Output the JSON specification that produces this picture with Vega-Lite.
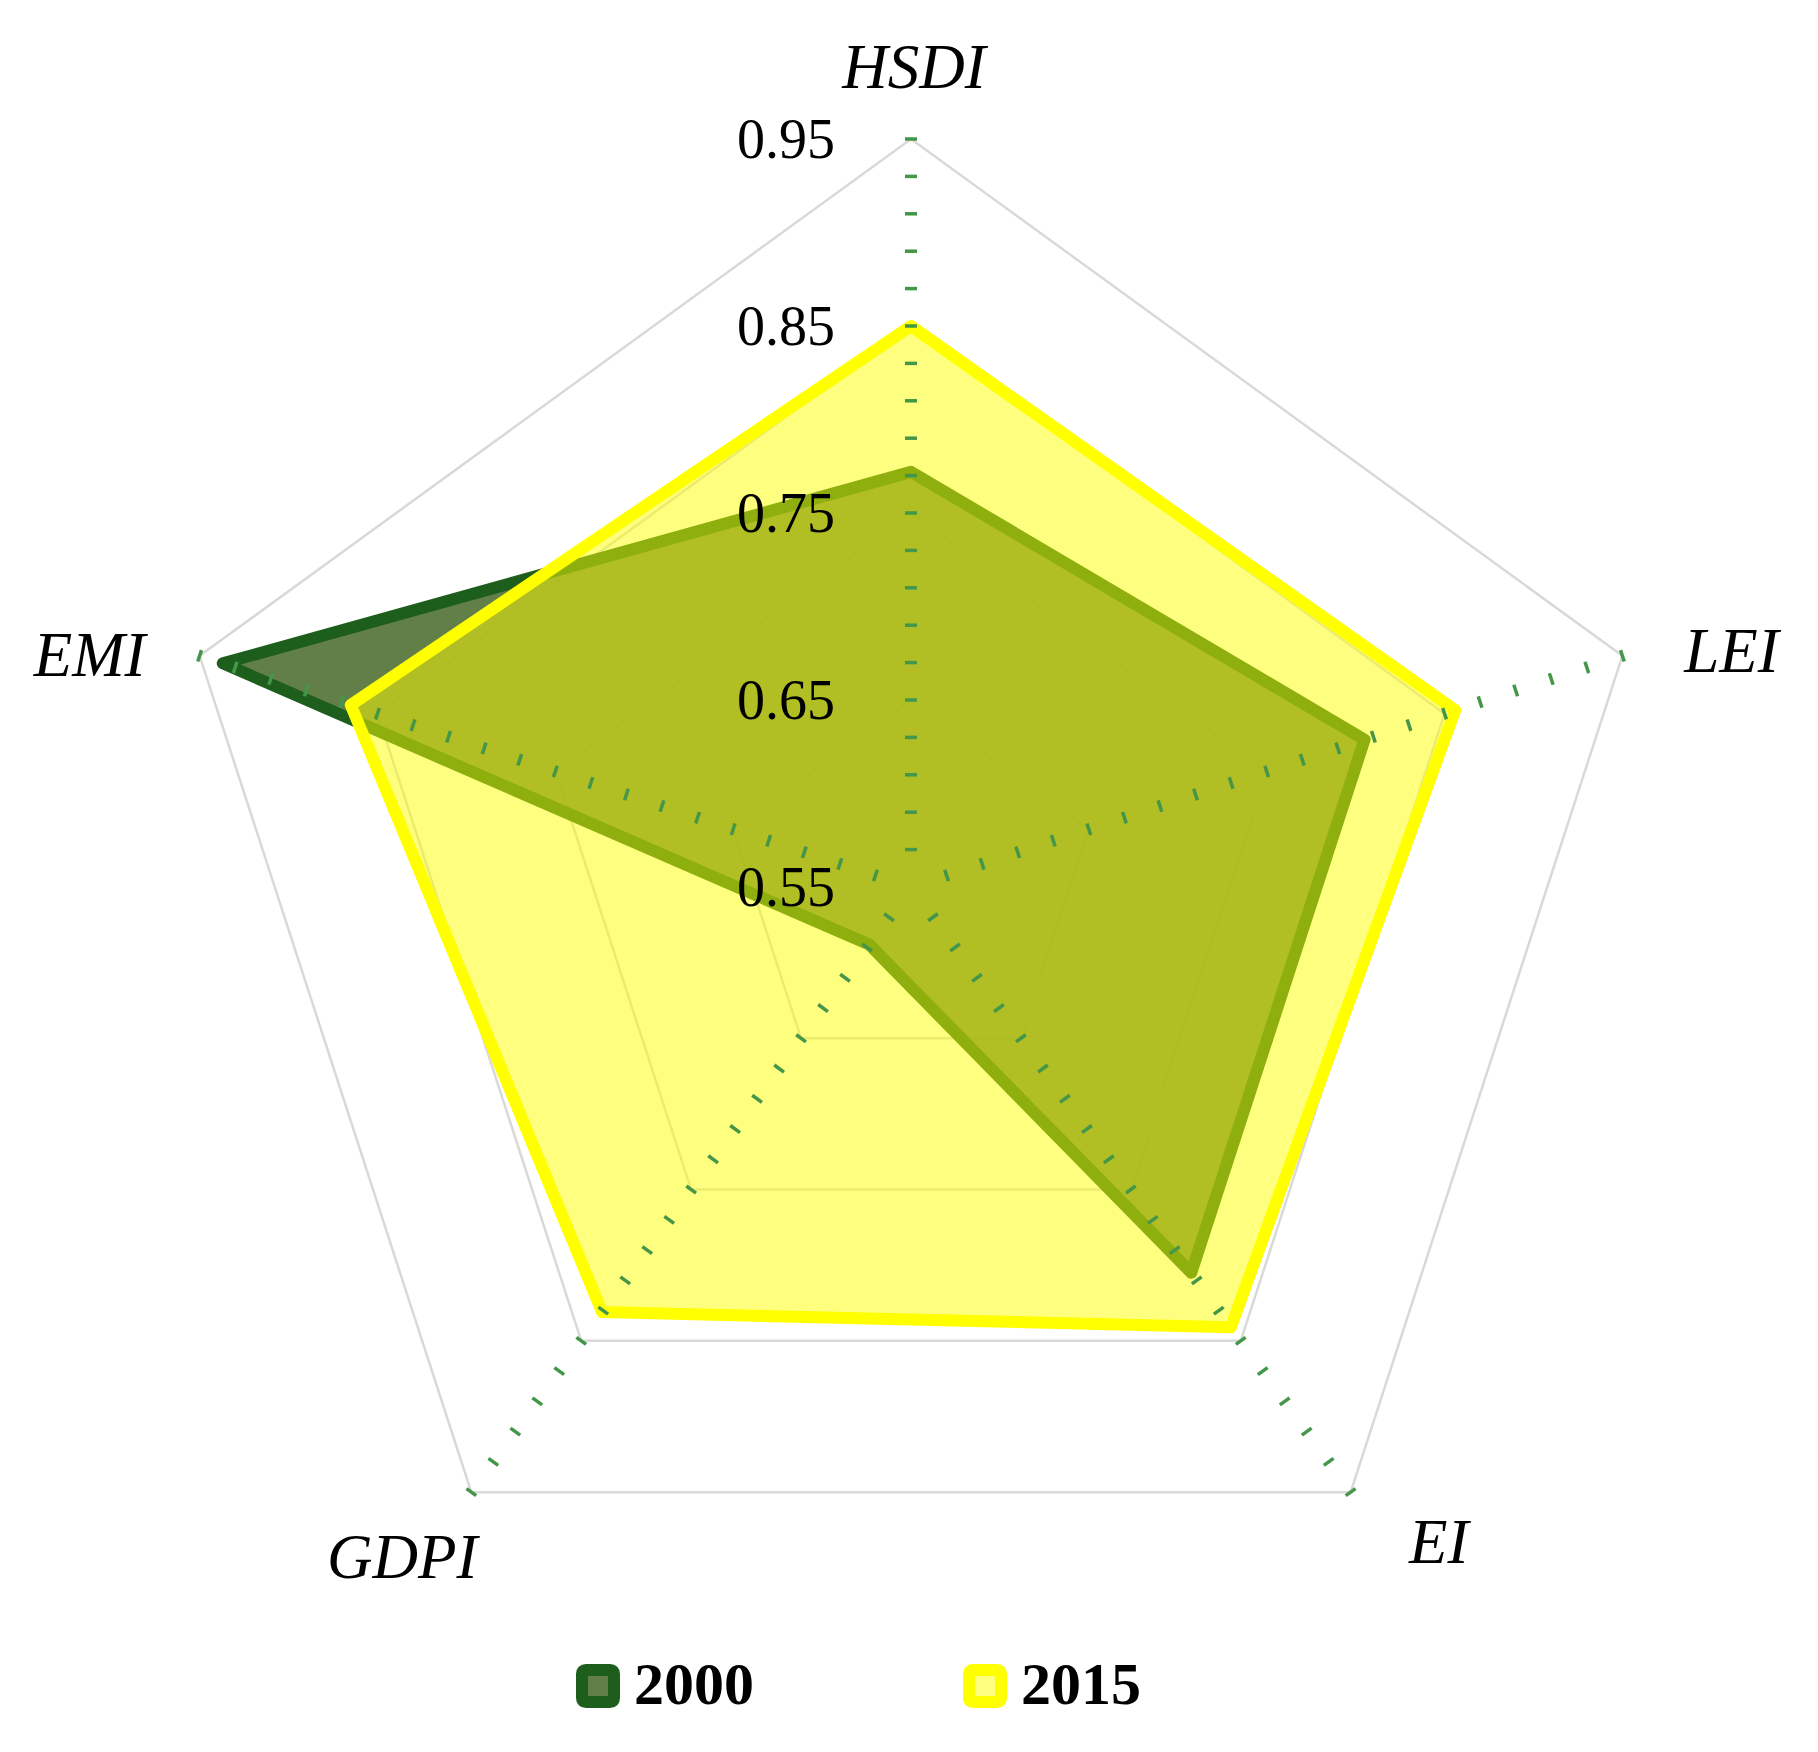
{
  "$schema": "https://vega.github.io/schema/vega-lite/v6.json",
  "width": 1818,
  "height": 1752,
  "autosize": "none",
  "padding": 0,
  "background": "white",
  "config": {"view": {"stroke": null}},
  "datasets": {
    "scores": [
      {"indicator": "HSDI", "year": "2000", "value": 0.772},
      {"indicator": "LEI", "year": "2000", "value": 0.805},
      {"indicator": "EI", "year": "2000", "value": 0.805},
      {"indicator": "GDPI", "year": "2000", "value": 0.588},
      {"indicator": "EMI", "year": "2000", "value": 0.937},
      {"indicator": "HSDI", "year": "2015", "value": 0.850},
      {"indicator": "LEI", "year": "2015", "value": 0.856},
      {"indicator": "EI", "year": "2015", "value": 0.841},
      {"indicator": "GDPI", "year": "2015", "value": 0.831},
      {"indicator": "EMI", "year": "2015", "value": 0.865}
    ],
    "levels": [{"value": 0.65}, {"value": 0.75}, {"value": 0.85}, {"value": 0.95}],
    "ticks": [
      {"value": 0.57}, {"value": 0.59}, {"value": 0.61}, {"value": 0.63}, {"value": 0.65},
      {"value": 0.67}, {"value": 0.69}, {"value": 0.71}, {"value": 0.73}, {"value": 0.75},
      {"value": 0.77}, {"value": 0.79}, {"value": 0.81}, {"value": 0.83}, {"value": 0.85},
      {"value": 0.87}, {"value": 0.89}, {"value": 0.91}, {"value": 0.93}, {"value": 0.95}
    ],
    "ticklabels": [{"value": 0.95}, {"value": 0.85}, {"value": 0.75}, {"value": 0.65}, {"value": 0.55}],
    "labels": [
      {"indicator": "HSDI", "value": 0.95},
      {"indicator": "LEI", "value": 0.95},
      {"indicator": "EI", "value": 0.95},
      {"indicator": "GDPI", "value": 0.95},
      {"indicator": "EMI", "value": 0.95}
    ]
  },
  "encoding": {
    "x": {"field": "x", "type": "quantitative", "scale": {"domain": [-0.48717, 0.48503], "nice": false, "zero": false}, "axis": null},
    "y": {"field": "y", "type": "quantitative", "scale": {"domain": [-0.46257, 0.47433], "nice": false, "zero": false}, "axis": null}
  },
  "layer": [
    {
      "data": {"name": "levels"},
      "transform": [
        {"calculate": "['HSDI','LEI','EI','GDPI','EMI']", "as": "indicator"},
        {"flatten": ["indicator"]},
        {"calculate": "indexof(['HSDI','LEI','EI','GDPI','EMI'], datum.indicator)", "as": "idx"},
        {"calculate": "datum.idx * 2 * PI / 5", "as": "ang"},
        {"calculate": "(datum.value - 0.55) * sin(datum.ang)", "as": "x"},
        {"calculate": "(datum.value - 0.55) * cos(datum.ang)", "as": "y"}
      ],
      "mark": {"type": "line", "interpolate": "linear-closed", "stroke": "#d9d9d9", "strokeWidth": 2.5},
      "encoding": {
        "detail": {"field": "value", "type": "nominal"},
        "order": {"field": "idx", "type": "quantitative"}
      }
    },
    {
      "data": {"name": "scores"},
      "transform": [
        {"calculate": "indexof(['HSDI','LEI','EI','GDPI','EMI'], datum.indicator)", "as": "idx"},
        {"calculate": "datum.idx * 2 * PI / 5", "as": "ang"},
        {"calculate": "(datum.value - 0.55) * sin(datum.ang)", "as": "x"},
        {"calculate": "(datum.value - 0.55) * cos(datum.ang)", "as": "y"}
      ],
      "mark": {"type": "line", "interpolate": "linear-closed", "strokeWidth": 12, "strokeJoin": "round"},
      "encoding": {
        "order": {"field": "idx", "type": "quantitative"},
        "fill": {
          "field": "year", "type": "nominal",
          "scale": {"domain": ["2000", "2015"], "range": ["rgba(70,105,40,0.85)", "rgba(255,255,0,0.5)"]},
          "legend": {
            "orient": "none", "legendX": 568, "legendY": 1656, "direction": "horizontal", "title": null,
            "symbolType": "M-0.75,-1H0.75Q1,-1,1,-0.75V0.75Q1,1,0.75,1H-0.75Q-1,1,-1,0.75V-0.75Q-1,-1,-0.75,-1Z",
            "symbolSize": 1024, "symbolStrokeWidth": 12,
            "labelFont": "Liberation Serif", "labelFontSize": 60, "labelFontWeight": "bold", "labelColor": "black",
            "labelOffset": 6, "columnPadding": 191, "padding": 0, "labelLimit": 0
          }
        },
        "stroke": {
          "field": "year", "type": "nominal",
          "scale": {"domain": ["2000", "2015"], "range": ["#1d5e1d", "#ffff00"]},
          "legend": {
            "orient": "none", "legendX": 568, "legendY": 1656, "direction": "horizontal", "title": null,
            "symbolType": "M-0.75,-1H0.75Q1,-1,1,-0.75V0.75Q1,1,0.75,1H-0.75Q-1,1,-1,0.75V-0.75Q-1,-1,-0.75,-1Z",
            "symbolSize": 1024, "symbolStrokeWidth": 12,
            "labelFont": "Liberation Serif", "labelFontSize": 60, "labelFontWeight": "bold", "labelColor": "black",
            "labelOffset": 6, "columnPadding": 191, "padding": 0, "labelLimit": 0
          }
        }
      }
    },
    {
      "data": {"name": "ticks"},
      "transform": [
        {"calculate": "['HSDI','LEI','EI','GDPI','EMI']", "as": "indicator"},
        {"flatten": ["indicator"]},
        {"calculate": "indexof(['HSDI','LEI','EI','GDPI','EMI'], datum.indicator)", "as": "idx"},
        {"calculate": "datum.idx * 72", "as": "deg"},
        {"calculate": "datum.idx * 2 * PI / 5", "as": "ang"},
        {"calculate": "(datum.value - 0.55) * sin(datum.ang)", "as": "x"},
        {"calculate": "(datum.value - 0.55) * cos(datum.ang)", "as": "y"}
      ],
      "mark": {"type": "point", "shape": "stroke", "size": 144, "strokeWidth": 3.5, "color": "#449649", "opacity": 1, "filled": false},
      "encoding": {
        "angle": {"field": "deg", "type": "quantitative", "scale": null}
      }
    },
    {
      "data": {"name": "ticklabels"},
      "transform": [
        {"calculate": "0", "as": "x"},
        {"calculate": "datum.value - 0.55", "as": "y"}
      ],
      "mark": {"type": "text", "align": "right", "baseline": "alphabetic", "dx": -76, "dy": 19, "font": "Liberation Serif", "fontSize": 56, "color": "black"},
      "encoding": {
        "text": {"field": "value", "type": "quantitative", "format": ".2f"}
      }
    },
    {
      "data": {"name": "labels"},
      "transform": [
        {"filter": "datum.indicator == 'HSDI'"},
        {"calculate": "0", "as": "x"},
        {"calculate": "datum.value - 0.55", "as": "y"}
      ],
      "mark": {"type": "text", "align": "center", "baseline": "alphabetic", "dx": 3, "dy": -51, "font": "Liberation Serif", "fontStyle": "italic", "fontSize": 63, "color": "black"},
      "encoding": {"text": {"field": "indicator", "type": "nominal"}}
    },
    {
      "data": {"name": "labels"},
      "transform": [
        {"filter": "datum.indicator == 'LEI'"},
        {"calculate": "(datum.value - 0.55) * sin(2 * PI / 5)", "as": "x"},
        {"calculate": "(datum.value - 0.55) * cos(2 * PI / 5)", "as": "y"}
      ],
      "mark": {"type": "text", "align": "center", "baseline": "alphabetic", "dx": 109, "dy": 16, "font": "Liberation Serif", "fontStyle": "italic", "fontSize": 63, "color": "black"},
      "encoding": {"text": {"field": "indicator", "type": "nominal"}}
    },
    {
      "data": {"name": "labels"},
      "transform": [
        {"filter": "datum.indicator == 'EI'"},
        {"calculate": "(datum.value - 0.55) * sin(4 * PI / 5)", "as": "x"},
        {"calculate": "(datum.value - 0.55) * cos(4 * PI / 5)", "as": "y"}
      ],
      "mark": {"type": "text", "align": "center", "baseline": "alphabetic", "dx": 88, "dy": 71, "font": "Liberation Serif", "fontStyle": "italic", "fontSize": 63, "color": "black"},
      "encoding": {"text": {"field": "indicator", "type": "nominal"}}
    },
    {
      "data": {"name": "labels"},
      "transform": [
        {"filter": "datum.indicator == 'GDPI'"},
        {"calculate": "(datum.value - 0.55) * sin(6 * PI / 5)", "as": "x"},
        {"calculate": "(datum.value - 0.55) * cos(6 * PI / 5)", "as": "y"}
      ],
      "mark": {"type": "text", "align": "center", "baseline": "alphabetic", "dx": -69, "dy": 86, "font": "Liberation Serif", "fontStyle": "italic", "fontSize": 63, "color": "black"},
      "encoding": {"text": {"field": "indicator", "type": "nominal"}}
    },
    {
      "data": {"name": "labels"},
      "transform": [
        {"filter": "datum.indicator == 'EMI'"},
        {"calculate": "(datum.value - 0.55) * sin(8 * PI / 5)", "as": "x"},
        {"calculate": "(datum.value - 0.55) * cos(8 * PI / 5)", "as": "y"}
      ],
      "mark": {"type": "text", "align": "center", "baseline": "alphabetic", "dx": -110, "dy": 20, "font": "Liberation Serif", "fontStyle": "italic", "fontSize": 63, "color": "black"},
      "encoding": {"text": {"field": "indicator", "type": "nominal"}}
    }
  ]
}
